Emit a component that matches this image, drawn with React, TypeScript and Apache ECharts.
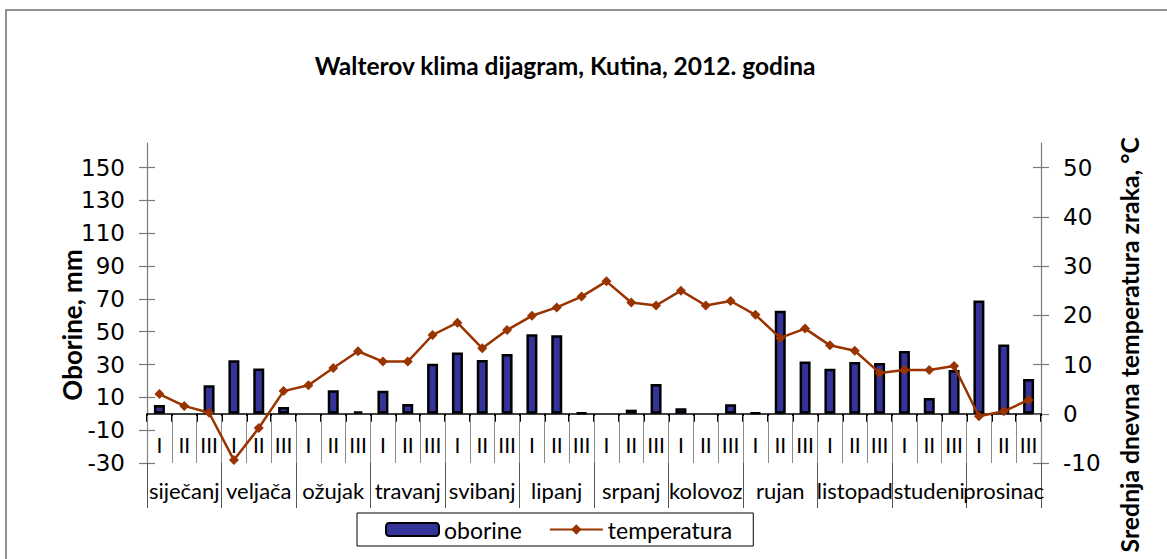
import React, { useEffect, useRef } from "react";
import * as echarts from "echarts";

const months = ["siječanj", "veljača", "ožujak", "travanj", "svibanj", "lipanj", "srpanj", "kolovoz", "rujan", "listopad", "studeni", "prosinac"];
const dekades = ["I", "II", "III"];
const precipitation = [5.4, null, 17.4, 32.6, 27.6, 4.2, null, 14.4, 1.5, 14, 6, 30.5, 37.4, 32.8, 36.4, 48.4, 47.8, 0.5, null, 2.5, 18.2, 3.4, null, 5.8, 0.5, 62.8, 31.8, 27.4, 31.6, 31, 38.2, 9.6, 26.6, 69, 42.2, 21.2];
const temperature = [4.0, 1.6, 0.2, -9.4, -2.9, 4.6, 5.8, 9.3, 12.7, 10.6, 10.6, 16.0, 18.5, 13.3, 17.0, 19.9, 21.6, 23.8, 26.9, 22.6, 22.0, 25.0, 22.0, 22.9, 20.1, 15.4, 17.3, 13.9, 12.8, 8.3, 8.9, 8.9, 9.7, -0.5, 0.5, 2.8];
const leftTicks = [-30, -10, 10, 30, 50, 70, 90, 110, 130, 150];
const rightTicks = [-10, 0, 10, 20, 30, 40, 50];

const CAL = "Lato, 'Noto Sans', sans-serif";
const NUM = "'DejaVu Sans', 'Liberation Sans', sans-serif";

export default function App() {
  const ref = useRef<HTMLDivElement>(null);
  useEffect(() => {
    document.body.style.margin = "0";
    const chart = echarts.init(ref.current!, null, { renderer: "svg" });
    const cats: string[] = [];
    months.forEach(() => dekades.forEach((d) => cats.push(d)));
    const axisGray = "#7a7a7a";
    chart.setOption({
      animation: false,
      backgroundColor: "#fff",
      title: {
        text: "Walterov klima dijagram, Kutina, 2012. godina",
        left: 560,
        textAlign: "center",
        top: 48,
        textStyle: { fontFamily: CAL, fontWeight: "bold", fontSize: 24.5, color: "#000" },
      },
      grid: { left: 147, right: 126, top: 143, bottom: 96, containLabel: false },
      legend: {
        left: 357,
        top: 513,
        padding: [5, 21, 5, 28],
        borderColor: "#000",
        borderWidth: 1,
        itemGap: 27,
        itemWidth: 53,
        itemHeight: 13,
        textStyle: { fontFamily: CAL, fontSize: 23, color: "#000" },
        data: ["oborine", "temperatura"],
      },
      xAxis: [
        {
          type: "category",
          data: cats,
          axisLine: { onZero: true, lineStyle: { color: "#000", width: 1.5 } },
          axisTick: { show: true, length: 8, lineStyle: { color: "#000", width: 2 } },
          axisLabel: { show: false },
        },
        {
          type: "category",
          data: cats,
          position: "bottom",
          axisLine: { show: false, onZero: false },
          axisTick: { show: true, inside: true, length: 47, lineStyle: { color: "#8a8a8a", width: 1 } },
          axisLabel: { show: true, inside: true, margin: 8, fontFamily: CAL, fontSize: 21, color: "#000", interval: 0 },
        },
        {
          type: "category",
          data: months,
          position: "bottom",
          axisLine: { show: false, onZero: false },
          axisTick: { show: true, inside: false, length: 45, lineStyle: { color: "#555", width: 1 } },
          axisLabel: { margin: 16, fontFamily: CAL, fontSize: 22, color: "#000", interval: 0 },
        },
      ],
      yAxis: [
        {
          type: "value",
          position: "left",
          min: -30,
          max: 165,
          interval: 20,
          splitLine: { show: false },
          axisLine: { show: true, lineStyle: { color: axisGray, width: 1.2 } },
          axisTick: { show: true, length: 8, customValues: leftTicks, lineStyle: { color: axisGray, width: 1.2 } },
          axisLabel: { customValues: leftTicks, margin: 22, fontFamily: NUM, fontSize: 23, color: "#000" },
        },
        {
          type: "value",
          position: "left",
          min: -30,
          max: 165,
          interval: 20,
          splitLine: { show: false },
          axisLine: { show: false },
          axisTick: { show: true, inside: true, length: 8, customValues: leftTicks, lineStyle: { color: axisGray, width: 1.2 } },
          axisLabel: { show: false },
        },
        {
          type: "value",
          position: "right",
          min: -10,
          max: 55,
          interval: 10,
          splitLine: { show: false },
          axisLine: { show: true, lineStyle: { color: axisGray, width: 1.2 } },
          axisTick: { show: true, length: 8, customValues: rightTicks, lineStyle: { color: axisGray, width: 1.2 } },
          axisLabel: { customValues: rightTicks, margin: 22, fontFamily: NUM, fontSize: 23, color: "#000" },
        },
        {
          type: "value",
          position: "right",
          min: -10,
          max: 55,
          interval: 10,
          splitLine: { show: false },
          axisLine: { show: false },
          axisTick: { show: true, inside: true, length: 8, customValues: rightTicks, lineStyle: { color: axisGray, width: 1.2 } },
          axisLabel: { show: false },
        },
      ],
      series: [
        {
          name: "oborine",
          type: "bar",
          xAxisIndex: 0,
          yAxisIndex: 0,
          data: precipitation,
          barWidth: 11,
          itemStyle: { color: "#333399", borderColor: "#000", borderWidth: 2.5 },
        },
        {
          name: "temperatura",
          type: "line",
          xAxisIndex: 0,
          yAxisIndex: 2,
          data: temperature,
          symbol: "diamond",
          symbolSize: 10,
          lineStyle: { color: "#993300", width: 2.5 },
          itemStyle: { color: "#993300" },
        },
      ],
      graphic: [
        {
          type: "rect",
          shape: { x: 6, y: 10, width: 1250, height: 700 },
          style: { fill: "none", stroke: "#6e6e6e", lineWidth: 1.5 },
          silent: true,
        },
        {
          type: "text",
          x: 72,
          y: 325,
          rotation: Math.PI / 2,
          style: {
            text: "Oborine, mm",
            fontFamily: CAL,
            fontWeight: "bold",
            fontSize: 26,
            fill: "#000",
            textAlign: "center",
            textVerticalAlign: "middle",
          },
        },
        {
          type: "text",
          x: 1129,
          y: 137,
          rotation: Math.PI / 2,
          style: {
            text: "Srednja dnevna temperatura zraka, °C",
            fontFamily: CAL,
            fontWeight: "bold",
            fontSize: 24.8,
            fill: "#000",
            textAlign: "right",
            textVerticalAlign: "middle",
          },
        },
      ],
    });
    return () => chart.dispose();
  }, []);
  return <div ref={ref} style={{ width: 1167, height: 559 }} />;
}
